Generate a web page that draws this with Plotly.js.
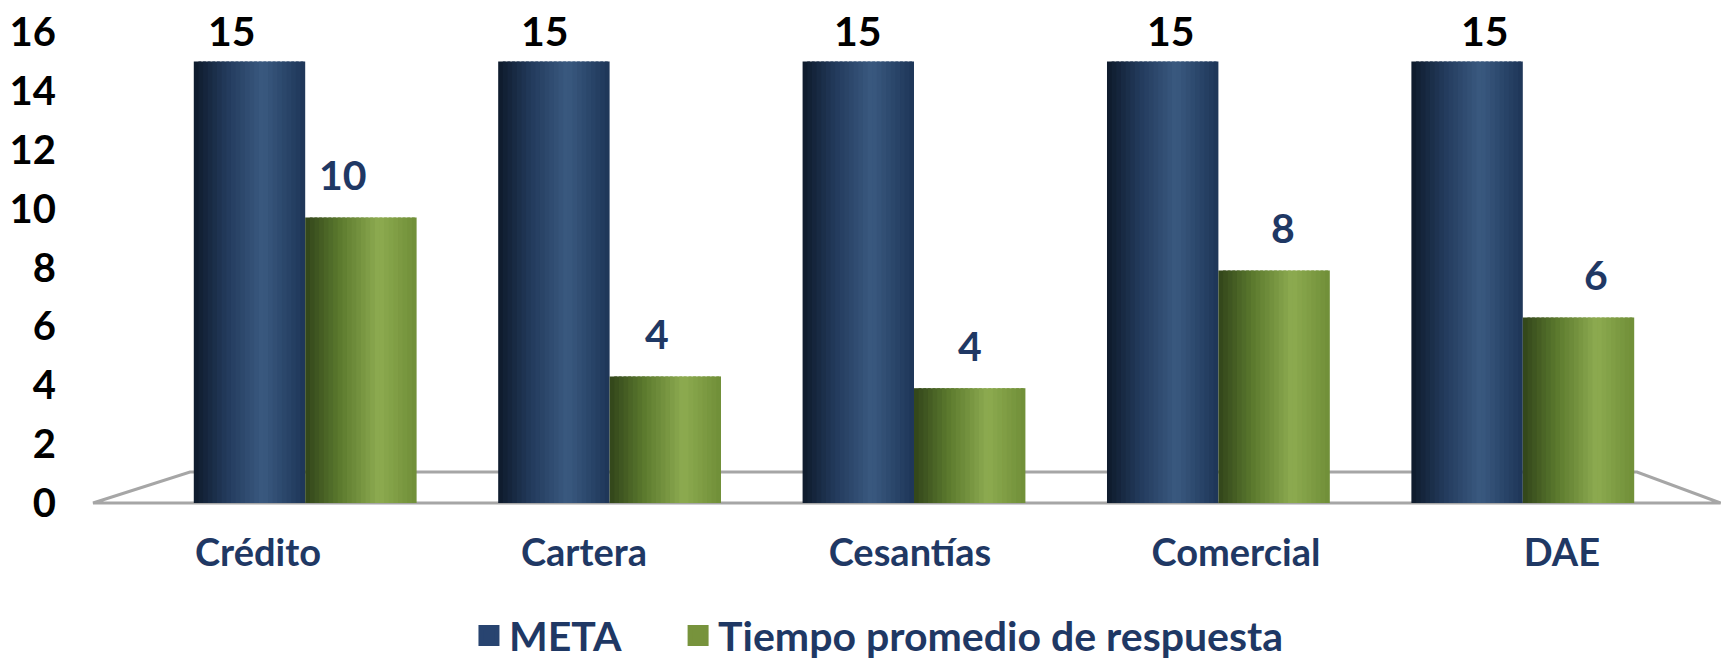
<!DOCTYPE html>
<html>
<head>
<meta charset="utf-8">
<script src="https://cdn.plot.ly/plotly-3.0.1.min.js"></script>
<style>
  html, body { margin: 0; padding: 0; background: #fff; }
  #chart { width: 1721px; height: 662px; }
</style>
</head>
<body>
<div id="chart"></div>
<script>
// categories and series
var categories = ["Crédito", "Cartera", "Cesantías", "Comercial", "DAE"];
var meta = [15, 15, 15, 15, 15];
var tiempo = [9.7, 4.3, 3.9, 7.9, 6.3];
var seriesNames = ["META", "Tiempo promedio de respuesta"];

// cylinder-like shading, dark edge -> highlight -> darker edge
var metaStops = [[0, "#0e1a2b"], [0.3, "#233b5d"], [0.62, "#3a5a80"], [1, "#1d3557"]];
var greenStops = [[0, "#31441a"], [0.3, "#5a782d"], [0.66, "#8dab50"], [1, "#6f8e38"]];

function hex(c) { return [1, 3, 5].map(function (i) { return parseInt(c.substr(i, 2), 16); }); }
function shade(stops, t) {
  for (var i = 1; i < stops.length; i++) {
    if (t <= stops[i][0]) {
      var a = hex(stops[i - 1][1]), b = hex(stops[i][1]);
      var f = (t - stops[i - 1][0]) / (stops[i][0] - stops[i - 1][0]);
      return "rgb(" + a.map(function (v, j) { return Math.round(v + (b[j] - v) * f); }).join(",") + ")";
    }
  }
  return stops[stops.length - 1][1];
}

var barW = 0.366;
var strips = 24;
var series = [
  { name: seriesNames[0], y: meta, base: -barW, stops: metaStops, legend: "#284470", label: "#000000", lift: 31, lg: "legend", lx: 0.2076 },
  { name: seriesNames[1], y: tiempo, base: 0, stops: greenStops, legend: "#77933c", label: "#1f3864", lift: 43, lg: "legend2", lx: 0.345 }
];

var data = [];
var annotations = [];
series.forEach(function (s, si) {
  var dw = barW / strips;
  for (var k = 0; k < strips; k++) {
    var start = s.base + k * dw;
    data.push({
      type: "bar",
      x: categories,
      y: s.y,
      offset: start,
      width: Math.min(dw * 1.6, s.base + barW - start),
      marker: { color: shade(s.stops, (k + 0.5) / strips), line: { width: 0 } },
      name: s.name,
      showlegend: false,
      hovertemplate: "%{x}: %{y}<extra>" + s.name + "</extra>"
    });
  }
  // legend entry
  data.push({
    type: "scatter", mode: "markers", x: [null], y: [null], name: s.name, legend: s.lg,
    marker: { symbol: "square", size: 16, color: s.legend, line: { width: 5, color: s.legend } },
    hoverinfo: "skip"
  });
  // value labels, spread a little like the 3D projection
  s.y.forEach(function (v, i) {
    annotations.push({
      xref: "x", yref: "y",
      x: i + s.base + barW / 2 + (i - 2) * 0.0287,
      y: v, yshift: s.lift, yanchor: "middle",
      text: String(Math.round(v)), showarrow: false,
      font: { family: "Lato", size: 41, weight: "bold", color: s.label }
    });
  });
});

// category label axis (labels are spread wider than the bars in the picture)
data.push({ type: "scatter", x: [null], y: [null], xaxis: "x2", showlegend: false, hoverinfo: "skip" });

var legendFont = { family: "Lato", size: 41, weight: "bold", color: "#1f3864" };

var layout = {
  width: 1721,
  height: 662,
  margin: { l: 153, r: 46, t: 32, b: 159, autoexpand: false },
  paper_bgcolor: "#ffffff",
  plot_bgcolor: "rgba(0,0,0,0)",
  font: { family: "Lato", weight: "bold" },
  barmode: "overlay",
  xaxis: {
    type: "category", range: [-0.5, 4.5],
    showticklabels: false, showgrid: false, zeroline: false, showline: false, ticks: ""
  },
  xaxis2: {
    overlaying: "x", anchor: "y", type: "linear",
    range: [-0.322, 4.347],
    tickmode: "array",
    tickvals: categories.map(function (c, i) { return i; }),
    ticktext: categories,
    showgrid: false, zeroline: false, showline: false, ticks: "",
    ticklabelstandoff: 24,
    tickfont: { family: "Lato", size: 38, weight: "bold", color: "#1f3864" }
  },
  yaxis: {
    range: [0, 16], dtick: 2,
    showgrid: false, zeroline: false, showline: false, ticks: "",
    ticklabelstandoff: 96,
    tickfont: { family: "Lato", size: 40, weight: "bold", color: "#000000" }
  },
  shapes: [{
    type: "path", xref: "paper", yref: "paper", layer: "below",
    path: "M -0.0394,0 L 0.0243,0.0658 L 0.975,0.0658 L 1.030,0 Z",
    line: { color: "#a6a6a6", width: 3 }
  }],
  annotations: annotations,
  legend: {
    orientation: "h", x: series[0].lx, xanchor: "left", y: -0.282, yanchor: "middle",
    font: legendFont, bgcolor: "rgba(0,0,0,0)"
  },
  legend2: {
    orientation: "h", x: series[1].lx, xanchor: "left", y: -0.282, yanchor: "middle",
    font: legendFont, bgcolor: "rgba(0,0,0,0)"
  },
  showlegend: true
};

Plotly.newPlot("chart", data, layout, { displayModeBar: false, staticPlot: true });
</script>
</body>
</html>
